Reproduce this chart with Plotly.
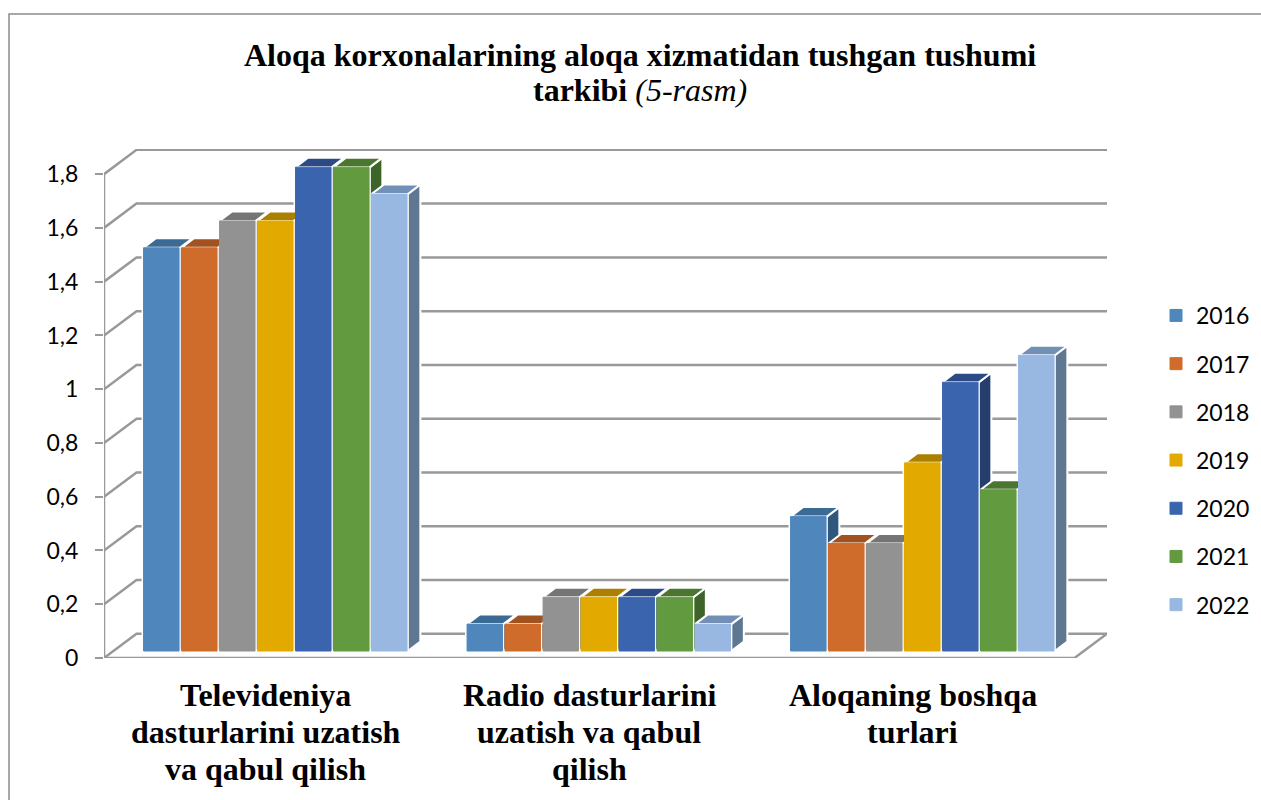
import plotly.graph_objects as go

# Values
categories = ["Televideniya dasturlarini uzatish va qabul qilish",
              "Radio dasturlarini uzatish va qabul qilish",
              "Aloqaning boshqa turlari"]
category_lines = [
    ["Televideniya", "dasturlarini uzatish", "va qabul qilish"],
    ["Radio dasturlarini", "uzatish va qabul", "qilish"],
    ["Aloqaning boshqa", "turlari"],
]
years = ["2016", "2017", "2018", "2019", "2020", "2021", "2022"]
v2016 = [1.5, 0.1, 0.5]
v2017 = [1.5, 0.1, 0.4]
v2018 = [1.6, 0.2, 0.4]
v2019 = [1.6, 0.2, 0.7]
v2020 = [1.8, 0.2, 1.0]
v2021 = [1.8, 0.2, 0.6]
v2022 = [1.7, 0.1, 1.1]
series = [v2016, v2017, v2018, v2019, v2020, v2021, v2022]
tick_vals = [0, 0.2, 0.4, 0.6, 0.8, 1, 1.2, 1.4, 1.6, 1.8]
tick_text = ["0", "0,2", "0,4", "0,6", "0,8", "1", "1,2", "1,4", "1,6", "1,8"]

front_colors = ["#4F87BC", "#D06C2B", "#929292", "#E2AA00", "#3B64AE", "#629A3F", "#98B8E2"]
top_colors = ["#3B6A94", "#A1521E", "#757575", "#AB8000", "#2C4A85", "#4A7630", "#7290B5"]
side_colors = ["#30587C", "#86451A", "#626262", "#8F6B00", "#263E6E", "#3E642A", "#5F7790"]
GRID = "#999999"

# Figure geometry in pixels
W, H = 1261, 800
LEFT, RIGHT, TOP, BOTTOM = 104, 1107, 149, 658
X_UNIT = 323.5  # px per category
Y_UNIT = 268.8  # px per value unit

# 3D look, converted to axis units
WALL_DX = 32.5 / X_UNIT
WALL_DY = 24.3 / Y_UNIT
BAR_DX = 12.5 / X_UNIT
BAR_DY = 9.5 / Y_UNIT
BAR_BASE = 7 / Y_UNIT
BAR_START = -122.2 / X_UNIT
BAR_STEP = 38.0 / X_UNIT
BAR_WIDTH = 35.5 / X_UNIT

X_MIN = -0.5
X_FRONT = 2.5
X_RANGE = [X_MIN, X_FRONT + WALL_DX]
Y_RANGE = [0, (BOTTOM - TOP) / Y_UNIT]
X_DOMAIN = [0, (RIGHT - LEFT) / (W - LEFT)]  # paper runs on to the right edge, room for the legend


def paper_x(px):
    return (px - LEFT) / (W - LEFT)


def paper_y(px):
    return (BOTTOM - px) / (BOTTOM - TOP)


fig = go.Figure()

# Back wall, side wall and floor lines
wall_x, wall_y = [], []
for v in tick_vals:
    wall_x += [X_MIN, X_MIN + WALL_DX, X_FRONT + WALL_DX, None]
    wall_y += [v, v + WALL_DY, v + WALL_DY, None]
wall_x += [X_MIN, X_MIN, None, X_MIN, X_FRONT, X_FRONT + WALL_DX, None]
wall_y += [0, tick_vals[-1], None, 0, 0, WALL_DY, None]
fig.add_trace(go.Scatter(x=wall_x, y=wall_y, mode="lines", showlegend=False, hoverinfo="skip",
                         cliponaxis=False, line=dict(color=GRID, width=2.5)))

# White halo behind the front faces, it breaks the grid lines around the bars
halo_x, halo_y = [], []
for k, values in enumerate(series):
    for i, v in enumerate(values):
        x0 = i + BAR_START + k * BAR_STEP
        x1 = x0 + BAR_WIDTH
        halo_x += [x0, x1, x1, x0, x0, None]
        halo_y += [BAR_BASE, BAR_BASE, BAR_BASE + v, BAR_BASE + v, BAR_BASE, None]
fig.add_trace(go.Scatter(x=halo_x, y=halo_y, mode="lines", fill="toself", fillcolor="white",
                         line=dict(color="white", width=4), showlegend=False, hoverinfo="skip"))

# Side and top faces of the bars, left to right so a later top covers an earlier side
for k, values in enumerate(series):
    left = BAR_START + k * BAR_STEP
    side_x, side_y, top_x, top_y = [], [], [], []
    for i, v in enumerate(values):
        x0 = i + left
        x1 = x0 + BAR_WIDTH + 0.8 / X_UNIT
        y1 = BAR_BASE + v
        side_x += [x1, x1 + BAR_DX, x1 + BAR_DX, x1, x1, None]
        side_y += [BAR_BASE, BAR_BASE + BAR_DY, y1 + BAR_DY, y1, BAR_BASE, None]
        top_x += [x0, x1, x1 + BAR_DX, x0 + BAR_DX, x0, None]
        top_y += [y1, y1, y1 + BAR_DY, y1 + BAR_DY, y1, None]
    for xs, ys, color in [(side_x, side_y, side_colors[k]), (top_x, top_y, top_colors[k])]:
        fig.add_trace(go.Scatter(x=xs, y=ys, mode="lines", fill="toself", fillcolor=color,
                                 line=dict(color="white", width=2), showlegend=False,
                                 hoverinfo="skip"))

# Front faces sit on overlay axes so they paint over the faces above
for k, values in enumerate(series):
    fig.add_trace(go.Bar(x=[0, 1, 2], y=values, base=BAR_BASE, name=years[k],
                         width=BAR_WIDTH, offset=BAR_START + k * BAR_STEP,
                         marker=dict(color=front_colors[k], line=dict(color=front_colors[k], width=1)),
                         legendgroup=years[k], xaxis="x2", yaxis="y2"))

annotations = []
for i, lines in enumerate(category_lines):
    for j, text in enumerate(lines):
        annotations.append(dict(x=i, xref="x", y=paper_y(695 + 37 * j), yref="paper",
                                text=f"<b>{text}</b>", showarrow=False,
                                xanchor="center", yanchor="middle",
                                font=dict(family="Liberation Serif", size=32, color="black")))
title_lines = ["<b>Aloqa korxonalarining aloqa xizmatidan tushgan tushumi</b>",
               "<b>tarkibi</b> <i>(5-rasm)</i>"]
for j, text in enumerate(title_lines):
    annotations.append(dict(x=paper_x(640), xref="paper", y=paper_y(55 + 35.5 * j), yref="paper",
                            text=text, showarrow=False, xanchor="center", yanchor="middle",
                            font=dict(family="Liberation Serif", size=32, color="black")))

# Chart frame, runs off the page on the right and at the bottom
frame = dict(type="path", xref="paper", yref="paper", line=dict(color="#8C8C8C", width=1.5),
             path=f"M {paper_x(9)} {paper_y(H + 5)} L {paper_x(9)} {paper_y(14)} "
                  f"L {paper_x(W + 5)} {paper_y(14)}")

fig.update_layout(
    width=W, height=H,
    margin=dict(l=LEFT, r=0, t=TOP, b=H - BOTTOM, pad=0),
    paper_bgcolor="white", plot_bgcolor="white",
    barmode="overlay",
    font=dict(family="Lato", size=23, color="black"),
    xaxis=dict(domain=X_DOMAIN, range=X_RANGE, showgrid=False, zeroline=False,
               showticklabels=False, ticks=""),
    yaxis=dict(range=Y_RANGE, showgrid=False, zeroline=False, tickmode="array",
               tickvals=tick_vals, ticktext=tick_text, ticks="outside", ticklen=8, tickwidth=2,
               tickcolor=GRID, ticklabelstandoff=12, tickfont=dict(family="Lato", size=23)),
    xaxis2=dict(domain=X_DOMAIN, range=X_RANGE, overlaying="x", visible=False),
    yaxis2=dict(range=Y_RANGE, overlaying="y", visible=False),
    legend=dict(x=paper_x(1156), xanchor="left", y=paper_y(294), yanchor="top",
                traceorder="grouped", tracegroupgap=15.3, bgcolor="rgba(0,0,0,0)",
                font=dict(family="Lato", size=23)),
    annotations=annotations,
    shapes=[frame],
)

# Page margin off, the figure already has the full window size
fig.write_html("out.html", config=dict(displayModeBar=False),
               post_script="document.body.style.margin = '0';")
